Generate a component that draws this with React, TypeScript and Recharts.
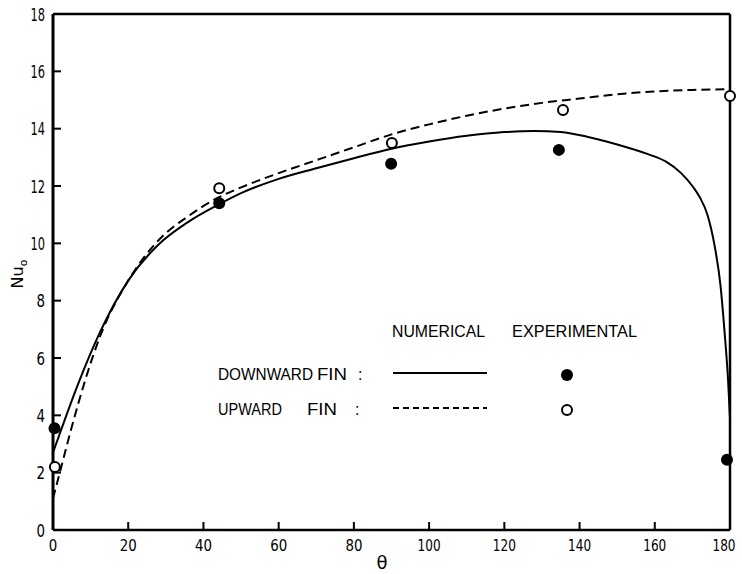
import React from 'react';
import { ComposedChart, Line, Scatter, XAxis, YAxis } from 'recharts';

// Numerical curves (theta in degrees, Nu_o)
const THETA_DOWN = [0, 3, 7, 12.5, 20, 28, 36, 44, 50, 60, 70, 80, 90, 100, 110, 120, 128, 135, 142, 150, 158, 163, 167, 170, 172, 174, 175, 176, 177.5, 178.5, 179.5, 180];
const NU_DOWN = [2.7, 3.8, 5.2, 6.9, 8.7, 9.95, 10.75, 11.35, 11.75, 12.25, 12.62, 12.97, 13.3, 13.55, 13.75, 13.88, 13.92, 13.88, 13.72, 13.45, 13.12, 12.85, 12.45, 12.0, 11.6, 11.0, 10.5, 9.85, 8.5, 7.0, 5.2, 3.9];

const THETA_UP = [0, 2, 5, 8.5, 12.5, 20, 28, 36, 44, 50, 60, 70, 80, 90, 100, 110, 120, 130, 140, 150, 160, 170, 180];
const NU_UP = [1.1, 2.1, 3.6, 5.2, 6.75, 8.7, 10.1, 10.95, 11.6, 11.95, 12.45, 12.9, 13.35, 13.8, 14.15, 14.45, 14.7, 14.9, 15.05, 15.2, 15.3, 15.35, 15.38];

// Experimental points
const EXP_THETA_DOWN = [0.4, 44.2, 89.9, 134.5, 179.2];
const EXP_NU_DOWN = [3.55, 11.4, 12.78, 13.26, 2.45];
const EXP_THETA_UP = [0.5, 44.2, 90.1, 135.6, 180];
const EXP_NU_UP = [2.2, 11.92, 13.5, 14.65, 15.14];

const X_TICKS = [0, 20, 40, 60, 80, 100, 120, 140, 160, 180];
const Y_TICKS = [0, 2, 4, 6, 8, 10, 12, 14, 16, 18];

const downData = THETA_DOWN.map((t, i) => ({ t, v: NU_DOWN[i] }));
const upData = THETA_UP.map((t, i) => ({ t, v: NU_UP[i] }));
const expDown = EXP_THETA_DOWN.map((t, i) => ({ t, v: EXP_NU_DOWN[i] }));
const expUp = EXP_THETA_UP.map((t, i) => ({ t, v: EXP_NU_UP[i] }));

const W = 742;
const H = 574;
const PL = 53;
const PR = 730;
const PT = 14;
const PB = 530;
const TICK = 8;
const FONT = "'DejaVu Sans', 'Liberation Sans', Arial, sans-serif";
const LFONT = "'Liberation Sans', Arial, sans-serif";

const labelLen = (s: string) => s.split('').reduce((a, c) => a + (c === '1' ? 6 : 8.5), 0);

const BottomTick = (props: any) => {
  const { x, payload } = props;
  const v = payload.value;
  const s = String(v);
  const lx = v === 180 ? x - 6 : x;
  return (
    <g>
      {v !== 0 && v !== 180 ? <line x1={x} x2={x} y1={PB} y2={PB - TICK} stroke="#000" strokeWidth={2} /> : null}
      <text x={lx} y={PB + 21} textAnchor="middle" fontFamily={FONT} fontSize={16} fill="#000"
        textLength={labelLen(s)} lengthAdjust="spacingAndGlyphs">{s}</text>
    </g>
  );
};

const TopTick = (props: any) => {
  const { x, payload } = props;
  const v = payload.value;
  if (v === 0 || v === 180) return <g />;
  return <line x1={x} x2={x} y1={PT} y2={PT + TICK} stroke="#000" strokeWidth={2} />;
};

const LeftTick = (props: any) => {
  const { y, payload } = props;
  const v = payload.value;
  const s = String(v);
  return (
    <g>
      {v !== 0 && v !== 18 ? <line x1={PL} x2={PL + TICK} y1={y} y2={y} stroke="#000" strokeWidth={2} /> : null}
      <text x={45 - labelLen(s)} y={y + 6.5} fontFamily={FONT} fontSize={18} fill="#000"
        textLength={labelLen(s)} lengthAdjust="spacingAndGlyphs">{s}</text>
    </g>
  );
};

const RightTick = (props: any) => {
  const { y, payload } = props;
  const v = payload.value;
  if (v === 0 || v === 18) return <g />;
  return <line x1={PR} x2={PR - TICK} y1={y} y2={y} stroke="#000" strokeWidth={2} />;
};

const FilledDot = (props: any) => <circle cx={props.cx} cy={props.cy} r={6} fill="#000" />;
const OpenDot = (props: any) => <circle cx={props.cx} cy={props.cy} r={5} fill="#fff" stroke="#000" strokeWidth={2} />;

export default function App() {
  return (
    <div style={{ position: 'absolute', left: 0, top: 0, width: W, height: H, background: '#fff' }}>
      <ComposedChart width={W} height={H} margin={{ top: 0, right: 0, bottom: 0, left: 0 }}>
        <XAxis xAxisId="b" dataKey="t" type="number" domain={[0, 180]} ticks={X_TICKS} interval={0}
          orientation="bottom" height={H - PB} axisLine={{ stroke: '#000', strokeWidth: 2.5 }}
          tickLine={false} tick={<BottomTick />} />
        <XAxis xAxisId="top" dataKey="t" type="number" domain={[0, 180]} ticks={X_TICKS} interval={0}
          orientation="top" height={PT} axisLine={{ stroke: '#000', strokeWidth: 2.5 }} tickLine={false} tick={<TopTick />} />
        <YAxis yAxisId="l" dataKey="v" type="number" domain={[0, 18]} ticks={Y_TICKS} interval={0}
          orientation="left" width={PL} axisLine={{ stroke: '#000', strokeWidth: 3 }} tickLine={false} tick={<LeftTick />} />
        <YAxis yAxisId="r" type="number" domain={[0, 18]} ticks={Y_TICKS} interval={0}
          orientation="right" width={W - PR} axisLine={{ stroke: '#000', strokeWidth: 2.5 }} tickLine={false} tick={<RightTick />} />
        <Line xAxisId="b" yAxisId="l" data={downData} dataKey="v" type="monotone" stroke="#000" strokeWidth={2}
          dot={false} isAnimationActive={false} />
        <Line xAxisId="b" yAxisId="l" data={upData} dataKey="v" type="monotone" stroke="#000" strokeWidth={2}
          strokeDasharray="9 5" dot={false} isAnimationActive={false} />
        <Scatter xAxisId="b" yAxisId="l" data={expDown} dataKey="v" shape={<FilledDot />} isAnimationActive={false} />
        <Scatter xAxisId="b" yAxisId="l" data={expUp} dataKey="v" shape={<OpenDot />} isAnimationActive={false} />
      </ComposedChart>
      <svg width={W} height={H} style={{ position: 'absolute', left: 0, top: 0, pointerEvents: 'none' }}>
        <g fontFamily={LFONT} fontSize={16} fill="#000">
          <text x={392} y={337} textLength={93} lengthAdjust="spacingAndGlyphs">NUMERICAL</text>
          <text x={512} y={337} textLength={125} lengthAdjust="spacingAndGlyphs">EXPERIMENTAL</text>
          <text x={218} y={380} textLength={95} lengthAdjust="spacingAndGlyphs">DOWNWARD</text>
          <text x={317} y={380} textLength={30} lengthAdjust="spacingAndGlyphs">FIN</text>
          <text x={358} y={380}>:</text>
          <text x={218} y={415} textLength={64} lengthAdjust="spacingAndGlyphs">UPWARD</text>
          <text x={307} y={415} textLength={30} lengthAdjust="spacingAndGlyphs">FIN</text>
          <text x={355} y={415}>:</text>
        </g>
        <line x1={393} x2={487} y1={373} y2={373} stroke="#000" strokeWidth={2} />
        <line x1={393} x2={487} y1={408} y2={408} stroke="#000" strokeWidth={2} strokeDasharray="6 4" />
        <circle cx={567} cy={375} r={6} fill="#000" />
        <circle cx={567} cy={410} r={5} fill="#fff" stroke="#000" strokeWidth={2} />
        <text x={382} y={569} textAnchor="middle" fontFamily={FONT} fontSize={18} fill="#000">θ</text>
        <text transform="translate(23,274) rotate(-90)" textAnchor="middle" fontFamily={FONT} fontSize={16} fill="#000">
          Nu<tspan fontSize={11} dy={4}>o</tspan>
        </text>
      </svg>
    </div>
  );
}
